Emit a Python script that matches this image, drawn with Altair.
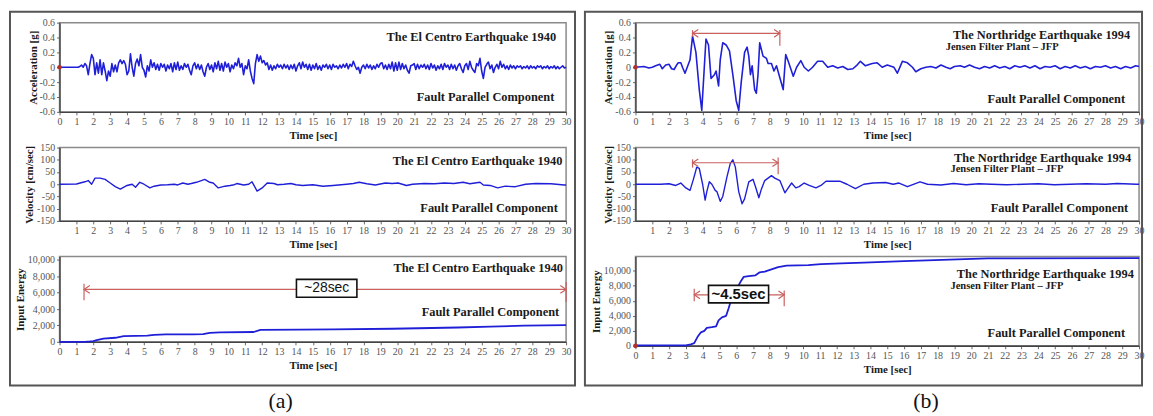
import altair as alt
import pandas as pd

BLUE = "#1f1fd8"
RED = "#c8605e"
DOT = "#b0302a"

T_TICKS = list(range(0, 31))
T_TICKS_NO0 = list(range(1, 31))
ACC_TICKS = [-0.6, -0.4, -0.2, 0, 0.2, 0.4, 0.6]
VEL_TICKS = [-150, -100, -50, 0, 50, 100, 150]
EN_TICKS = [0, 2000, 4000, 6000, 8000, 10000]

# ---- El Centro 1940 : acceleration [g], read every 0.1 s (0 .. 30 s)
elc_acc_v = [
    0, 0, 0, 0, 0, 0, 0, 0, 0, 0,
    0, 0, 0.01, 0.03, 0.0, 0.05, 0.02, -0.1, 0.05, 0.17,
    0.12, -0.1, 0.06, -0.08, 0.1, -0.1, 0.06, -0.05, -0.18, -0.05,
    -0.12, 0.05, -0.06, 0.03, -0.06, 0.06, 0.1, 0.05, 0.09, 0.04,
    -0.1, -0.05, 0.18, 0.0, -0.12, 0.05, 0.11, 0.02, 0.17, 0.0,
    -0.04, -0.13, 0.02, -0.05, 0.1, 0.0, 0.06, -0.03, 0.04, -0.04,
    0.05, 0.0, 0.04, -0.05, 0.03, -0.02, 0.05, -0.06, 0.06, -0.03,
    0.07, -0.04, 0.02, -0.03, 0.05, 0.0, 0.04, -0.04, -0.1, 0.02,
    0.06, -0.02, 0.04, -0.03, 0.03, -0.06, -0.12, 0.0, 0.05, -0.03,
    0.03, -0.06, 0.06, -0.02, 0.08, -0.04, 0.05, -0.05, 0.07, 0.0,
    0.05, -0.06, 0.03, -0.02, 0.06, 0.02, 0.12, 0.0, 0.05, -0.1,
    0.02, -0.02, 0.1, -0.05, -0.15, -0.22, 0.05, 0.17, 0.08, 0.15,
    0.06, 0.09, 0.03, 0.06, -0.03, 0.03, -0.04, 0.02, -0.02, 0.04,
    0.0, 0.03, -0.02, 0.04, -0.01, 0.03, -0.03, 0.03, -0.02, 0.04,
    -0.05, 0.02, 0.06, -0.02, 0.07, 0.0, 0.04, -0.03, 0.04, -0.04,
    0.03, -0.02, 0.05, -0.03, 0.02, -0.04, 0.03, 0.0, 0.04, -0.02,
    0.03, -0.03, 0.04, 0.0, 0.02, -0.02, 0.03, -0.01, 0.04, 0.0,
    0.05, -0.02, 0.04, 0.01, 0.08, 0.02, -0.03, 0.0, -0.08, 0.0,
    0.03, -0.02, 0.04, -0.01, 0.03, -0.03, 0.02, -0.02, 0.04, 0.0,
    0.05, 0.06, -0.02, 0.03, -0.03, 0.04, -0.02, 0.07, -0.05, 0.06,
    -0.04, 0.07, -0.03, 0.05, -0.02, 0.03, -0.04, -0.08, 0.02, 0.03,
    0.05, -0.03, 0.04, -0.02, 0.03, 0.0, 0.04, -0.02, 0.03, -0.03,
    0.05, -0.01, 0.03, -0.04, 0.02, -0.02, 0.04, -0.03, 0.05, 0.0,
    0.03, -0.03, 0.04, -0.02, 0.03, -0.04, 0.02, 0.05, -0.02, -0.07,
    0.02, 0.05, -0.03, 0.08, 0.0, -0.04, -0.07, 0.05, 0.02, 0.12,
    -0.05, -0.15, 0.0, 0.04, 0.07, -0.02, 0.03, -0.07, 0.0, 0.04,
    -0.02, 0.08, 0.0, 0.04, -0.02, 0.02, -0.03, 0.03, -0.01, 0.02,
    -0.02, 0.02, 0.0, 0.02, -0.02, 0.01, -0.01, 0.02, -0.02, 0.02,
    -0.01, 0.01, -0.02, 0.02, 0.0, 0.02, -0.02, 0.01, -0.01, 0.02,
    -0.02, 0.01, -0.01, 0.02, -0.02, 0.01, -0.02, 0.0, 0.02, -0.01,
    0.0,
]
elc_acc_t = [round(0.1 * i, 1) for i in range(len(elc_acc_v))]

# ---- El Centro 1940 : velocity [cm/sec]
elc_vel_t = [0, 1.0, 1.5, 1.7, 1.9, 2.1, 2.4, 2.7, 3.0, 3.3, 3.6, 4.0, 4.3, 4.5, 4.75, 5.0,
             5.35, 5.6, 6.0, 6.4, 6.8, 7.0, 7.3, 7.6, 7.8, 8.1, 8.4, 8.6, 8.9, 9.1, 9.4, 9.8,
             10.1, 10.35, 10.5, 10.9, 11.2, 11.4, 11.7, 12.0, 12.3, 12.7, 12.9, 13.3, 13.7,
             14.0, 14.4, 15.0, 15.6, 16.2, 17.0, 17.4, 17.75, 18.2, 18.7, 19.3, 19.7, 20.05,
             20.55, 20.9, 21.6, 22.2, 22.8, 23.35, 23.9, 24.3, 24.9, 25.1, 25.5, 25.95, 26.4,
             27.0, 27.6, 28.2, 29.1, 29.9, 30]
elc_vel_v = [0, 1, 10, 15, 0, 25, 25, 20, 5, -10, -20, -5, 0, -12, 8, 0,
             -15, -8, -3, -2, 0, -3, 5, 0, 3, 8, 15, 20, 8, 5, -15, -8,
             -5, -2, 3, -3, 0, 10, -28, -15, 5, 3, -2, 0, 3,
             -2, -5, -2, -8, -5, 0, 3, 8, 2, -3, 5, 3, 5,
             -5, 0, 3, 2, 5, 3, 8, 2, 8, -3, -5, -15, -8,
             -10, 0, 3, 2, -3, -3]

# ---- El Centro 1940 : input energy
elc_en_t = [0, 1.5, 1.8, 2.0, 2.2, 2.6, 3.3, 3.8, 5.2, 5.6, 6.3, 7.9, 8.5, 8.9, 9.5, 11.5,
            11.9, 14.2, 16.2, 19.7, 23.6, 25.5, 27.5, 30]
elc_en_v = [0, 0, 50, 100, 200, 400, 500, 700, 750, 850, 900, 900, 950, 1100, 1150, 1200,
            1450, 1500, 1520, 1600, 1750, 1850, 1980, 2050]

# ---- Northridge 1994 (JFP) : acceleration [g]
nr_acc_t = [0, 0.5, 0.8, 1.0, 1.2, 1.45, 1.6, 1.8, 2.0, 2.15, 2.3, 2.45, 2.55, 2.7, 2.8, 2.95,
            3.25, 3.4, 3.6, 3.8, 3.95, 4.1, 4.2, 4.35, 4.5, 4.7, 4.8, 4.95, 5.05, 5.2, 5.4,
            5.6, 5.8, 6.0, 6.15, 6.3, 6.5, 6.65, 6.75, 6.85, 6.95, 7.1, 7.2, 7.3, 7.4, 7.6,
            7.8, 7.9, 8.1, 8.25, 8.4, 8.55, 8.8, 8.95, 9.1, 9.4, 9.6, 9.85, 10.05, 10.3,
            10.55, 10.85, 11.15, 11.45, 11.75, 12.05, 12.35, 12.65, 12.95, 13.2, 13.4, 13.7,
            14.1, 14.4, 14.7, 15.0, 15.4, 15.6, 15.9, 16.2, 16.5, 16.7, 17.0, 17.3, 17.6,
            17.9, 18.2, 18.5, 18.75, 19.0, 19.35, 19.6, 19.9, 20.2, 20.5, 20.8, 21.1, 21.4,
            21.7, 22.0, 22.3, 22.6, 22.9, 23.2, 23.5, 23.8, 24.1, 24.4, 24.7, 25.0, 25.3,
            25.6, 25.9, 26.2, 26.5, 26.8, 27.1, 27.4, 27.7, 28.0, 28.3, 28.6, 28.9, 29.2,
            29.5, 29.8, 30]
nr_acc_v = [0, 0.01, -0.01, 0.0, 0.02, 0.04, -0.02, 0.03, 0.04, -0.02, -0.03, 0.03, 0.06, 0.06, 0.0, -0.08,
            0.1, 0.42, 0.2, -0.3, -0.58, 0.0, 0.38, 0.3, -0.15, -0.1, -0.05, -0.25, 0.1, 0.33, 0.3,
            0.22, -0.1, -0.45, -0.58, -0.2, 0.2, 0.27, 0.15, -0.1, 0.02, -0.3, -0.35, -0.1, 0.33, 0.15,
            0.12, 0.05, 0.05, -0.05, 0.02, -0.1, -0.3, 0.17, 0.08, -0.12, 0.0, 0.09, 0.0, -0.05,
            0.0, 0.08, 0.08, 0.0, 0.02, -0.01, 0.01, -0.03, -0.02, 0.03, 0.08, 0.02,
            0.05, 0.06, 0.0, 0.03, 0.0, -0.08, 0.08, 0.06, 0.0, -0.06, -0.02, 0.0, 0.01,
            -0.01, 0.03, 0.0, -0.02, 0.01, 0.02, 0.0, 0.03, 0.0, -0.02, 0.01, -0.01, 0.02,
            -0.01, 0.01, -0.02, 0.02, 0.0, 0.02, -0.01, 0.02, -0.02, 0.01, 0.0, 0.02, -0.02,
            0.01, -0.01, 0.02, -0.01, 0.01, -0.02, 0.01, 0.0, 0.02, -0.01, 0.01, -0.02, 0.01,
            -0.01, 0.02, 0.01]

# ---- Northridge 1994 (JFP) : velocity [cm/sec]
nr_vel_t = [0, 1.5, 2.0, 2.4, 2.7, 3.0, 3.25, 3.45, 3.65, 3.8, 4.0, 4.15, 4.25, 4.4, 4.55, 4.75,
            4.85, 5.05, 5.2, 5.45, 5.65, 5.8, 5.95, 6.15, 6.35, 6.5, 6.75, 7.0, 7.15, 7.35, 7.5,
            7.7, 8.1, 8.3, 8.6, 8.9, 9.05, 9.3, 9.55, 9.75, 10.05, 10.35, 10.75, 11.05, 11.35,
            11.6, 12.2, 12.6, 13.1, 13.6, 14.15, 14.9, 15.35, 15.7, 16.2, 16.95, 17.4, 18.2,
            18.95, 19.7, 20.45, 21.2, 22.1, 23.1, 24.0, 24.95, 25.9, 26.85, 28.0, 28.7, 29.85, 30]
nr_vel_v = [0, 0, 2, -5, 5, -15, -25, 20, 70, 65, 0, -65, -30, 10, 0, -25,
            -30, -70, -50, 30, 85, 100, 70, -30, -80, -60, 10, 20, -10, -55, -20,
            15, 35, 25, 15, -35, -20, 5, -15, -10, 5, -5, -15, -5, 12,
            12, 12, 0, -18, 0, 5, 7, 0, 5, -10, 10, 0, -3,
            3, -2, 2, 0, -2, 0, 2, -2, 0, 2, 0, 3, 0, 0]

# ---- Northridge 1994 (JFP) : input energy
nr_en_t = [0, 3.0, 3.3, 3.5, 3.7, 3.9, 4.1, 4.25, 4.55, 4.8, 4.95, 5.15, 5.4, 5.55, 5.75, 6.0,
           6.25, 6.45, 6.75, 7.15, 7.4, 7.7, 8.1, 8.5, 9.0, 10.3, 11.05, 12.25, 13.6, 16.0,
           21.0, 30]
nr_en_v = [50, 50, 200, 350, 1200, 1800, 2000, 2400, 2500, 2600, 3400, 3800, 4000, 5000, 6500, 7500,
           8500, 9200, 9300, 9400, 9800, 9900, 10200, 10500, 10700, 10750, 10900, 11000, 11100, 11300,
           11650, 11700]

LEFT_HEAD = "M1.5,-1L0,0L1.5,1"
RIGHT_HEAD = "M-1.5,-1L0,0L-1.5,1"

ACC_LABEL = "datum.value == 0 ? '0' : (datum.value < 0 ? '-' : '') + format(abs(datum.value), '.1f')"
VEL_LABEL = "(datum.value < 0 ? '-' : '') + format(abs(datum.value), 'd')"
EN_LABEL = "format(datum.value, ',')"


def make_panel(ts, vs, *, width, height, ydom, yticks, ytitle, title_x, xticks,
               line_w, ylabel_expr, texts_right=(), texts_left=(),
               arrow=None, box=None, dot=False, frame=None, tag=None):
    xenc = alt.X("t:Q", scale=alt.Scale(domain=[0, 30], nice=False, zero=False),
                 axis=alt.Axis(values=xticks, title="Time [sec]", titlePadding=3))
    yenc = alt.Y("v:Q", scale=alt.Scale(domain=ydom, nice=False, zero=False),
                 axis=alt.Axis(values=yticks, title=ytitle, titleX=title_x, titleY=height / 2,
                               titleBaseline="middle", labelExpr=ylabel_expr))

    layers = [alt.Chart(pd.DataFrame({"t": ts, "v": vs})).mark_line(
        color=BLUE, strokeWidth=line_w, strokeJoin="round").encode(x=xenc, y=yenc)]

    if arrow is not None:
        y0, t1, t2, bars, lheads, rheads = arrow
        layers.append(alt.Chart(pd.DataFrame({"t": [t1], "t2": [t2], "v": [y0]})).mark_rule(
            color=RED, strokeWidth=1.2).encode(x=xenc, x2="t2:Q", y=yenc))
        layers.append(alt.Chart(pd.DataFrame({"t": [b[0] for b in bars],
                                              "v": [b[1] for b in bars],
                                              "v2": [b[2] for b in bars]})).mark_rule(
            color=RED, strokeWidth=1.2).encode(x=xenc, y=yenc, y2="v2:Q"))
        if lheads:
            layers.append(alt.Chart(pd.DataFrame({"t": lheads, "v": [y0] * len(lheads)})).mark_point(
                shape=LEFT_HEAD, filled=False, color=RED, size=60, strokeWidth=1.2, opacity=1
            ).encode(x=xenc, y=yenc))
        if rheads:
            layers.append(alt.Chart(pd.DataFrame({"t": rheads, "v": [y0] * len(rheads)})).mark_point(
                shape=RIGHT_HEAD, filled=False, color=RED, size=60, strokeWidth=1.2, opacity=1
            ).encode(x=xenc, y=yenc))

    if box is not None:
        bt1, bt2, bv1, bv2, blabel, bfs, bweight = box
        layers.append(alt.Chart(pd.DataFrame({"t": [bt1], "t2": [bt2], "v": [bv1], "v2": [bv2]})).mark_rect(
            fill="white", stroke="#111111", strokeWidth=1.6).encode(x=xenc, x2="t2:Q", y=yenc, y2="v2:Q"))
        layers.append(alt.Chart(pd.DataFrame({"t": [(bt1 + bt2) / 2], "v": [(bv1 + bv2) / 2],
                                              "label": [blabel]})).mark_text(
            font="Liberation Sans", fontSize=bfs, fontWeight=bweight, color="#111111",
            align="center", baseline="middle").encode(x=xenc, y=yenc, text="label:N"))

    for rows, align in ((texts_right, "right"), (texts_left, "left")):
        if rows:
            df = pd.DataFrame({"t": [r[0] for r in rows], "v": [r[1] for r in rows],
                               "label": [r[2] for r in rows], "fs": [r[3] for r in rows]})
            layers.append(alt.Chart(df).mark_text(
                font="Liberation Serif", fontWeight="bold", color="#1a1a1a",
                align=align, baseline="middle").encode(
                x=xenc, y=yenc, text="label:N", size=alt.Size("fs:Q", scale=None, legend=None)))

    if dot:
        layers.append(alt.Chart(pd.DataFrame({"t": [0], "v": [0]})).mark_point(
            filled=True, color=DOT, size=22, opacity=1).encode(x=xenc, y=yenc))

    if frame is not None:
        fx1, fx2, fy1, fy2 = frame
        layers.append(alt.Chart(pd.DataFrame({"k": [0]})).mark_rect(
            fill="transparent", stroke="#555555", strokeWidth=2).encode(
            x=alt.value(fx1), x2=alt.value(fx2), y=alt.value(fy1), y2=alt.value(fy2)))

    if tag is not None:
        tx, ty, ttext = tag
        layers.append(alt.Chart(pd.DataFrame({"k": [0]})).mark_text(
            font="Liberation Serif", fontSize=22, color="#111111", align="center",
            baseline="middle").encode(x=alt.value(tx), y=alt.value(ty), text=alt.value(ttext)))

    return alt.layer(*layers).properties(width=width, height=height)


LW, RW = 511, 508

a1 = make_panel(elc_acc_t, elc_acc_v, width=LW, height=90, ydom=[-0.6, 0.6], yticks=ACC_TICKS,
                ytitle="Acceleration [g]", title_x=-26, xticks=T_TICKS, line_w=1.6,
                ylabel_expr=ACC_LABEL,
                texts_right=[(29.41, 0.413, "The El Centro Earthquake 1940", 12.5),
                             (29.3, -0.40, "Fault Parallel Component", 12.5)],
                dot=True, frame=(-50, 520, -11, 366), tag=(223, 382, "(a)"))
a2 = make_panel(elc_vel_t, elc_vel_v, width=LW, height=74, ydom=[-150, 150], yticks=VEL_TICKS,
                ytitle="Velocity [cm/sec]", title_x=-30, xticks=T_TICKS_NO0, line_w=1.4,
                ylabel_expr=VEL_LABEL,
                texts_right=[(29.78, 93, "The El Centro Earthquake 1940", 12.5),
                             (29.51, -97, "Fault Parallel Component", 12.5)])
a3 = make_panel(elc_en_t, elc_en_v, width=LW, height=86, ydom=[0, 10400], yticks=EN_TICKS,
                ytitle="Input Energy", title_x=-39, xticks=T_TICKS, line_w=1.8,
                ylabel_expr=EN_LABEL,
                texts_right=[(29.82, 8947, "The El Centro Earthquake 1940", 12.5),
                             (29.59, 3627, "Fault Parallel Component", 12.5)],
                arrow=(6400, 1.45, 30, [(1.45, 7100, 5080), (30, 7290, 4870)], [1.45], [30]),
                box=(14.03, 17.61, 5440, 7617, "~28sec", 14, "normal"))

b1 = make_panel(nr_acc_t, nr_acc_v, width=RW, height=90, ydom=[-0.6, 0.6], yticks=ACC_TICKS,
                ytitle="Acceleration [g]", title_x=-27, xticks=T_TICKS, line_w=1.6,
                ylabel_expr=ACC_LABEL,
                texts_right=[(29.47, 0.427, "The Northridge Earthquake 1994", 12.5),
                             (29.17, -0.427, "Fault Parallel Component", 12.5)],
                texts_left=[(18.48, 0.267, "Jensen Filter Plant \u2013 JFP", 10.6)],
                arrow=(0.456, 3.4, 8.6, [(3.4, 0.5, 0.41), (8.6, 0.5, 0.29)], [3.4], [8.6]),
                dot=True, frame=(-51, 511, -11, 366), tag=(293, 382, "(b)"))
b2 = make_panel(nr_vel_t, nr_vel_v, width=RW, height=74, ydom=[-150, 150], yticks=VEL_TICKS,
                ytitle="Velocity [cm/sec]", title_x=-27, xticks=T_TICKS_NO0, line_w=1.4,
                ylabel_expr=VEL_LABEL,
                texts_right=[(29.53, 109, "The Northridge Earthquake 1994", 12.5),
                             (29.35, -98.5, "Fault Parallel Component", 12.5)],
                texts_left=[(18.76, 62, "Jensen Filter Plant \u2013 JFP", 10.6)],
                arrow=(88, 3.4, 8.5, [(3.4, 68, 102), (8.5, 41, 109)], [3.4], [8.5]))
b3 = make_panel(nr_en_t, nr_en_v, width=RW, height=90, ydom=[0, 11900], yticks=EN_TICKS,
                ytitle="Input Energy", title_x=-39, xticks=T_TICKS, line_w=1.8,
                ylabel_expr=EN_LABEL,
                texts_right=[(29.69, 9558, "The Northridge Earthquake 1994", 12.5),
                             (29.17, 1758, "Fault Parallel Component", 12.5)],
                texts_left=[(18.76, 7932, "Jensen Filter Plant \u2013 JFP", 10.6)],
                arrow=(6800, 3.5, 8.86, [(3.5, 5949, 7628), (8.86, 5288, 7364)], [3.5], [8.86]),
                box=(4.35, 7.93, 5724, 8064, "~4.5sec", 15, "bold"), dot=True)

chart = alt.concat(a1, b1, a2, b2, a3, b3, columns=2, bounds="flush",
                   spacing={"row": 36, "column": 70}).properties(
    padding=0, background="white"
).configure_view(
    stroke="#8a8a8a", strokeWidth=1.5
).configure_axis(
    grid=False,
    labelFont="Liberation Serif", labelFontSize=10, labelColor="#555555",
    titleFont="Liberation Serif", titleFontSize=11, titleFontWeight="bold", titleColor="#1a1a1a",
    tickColor="#666666", tickSize=3, tickWidth=1,
    domainColor="#444444", domainWidth=1.4,
    labelOverlap=False, labelFlush=False, labelPadding=2,
)

chart.save("out.html", embed_options={"renderer": "svg", "actions": False})
